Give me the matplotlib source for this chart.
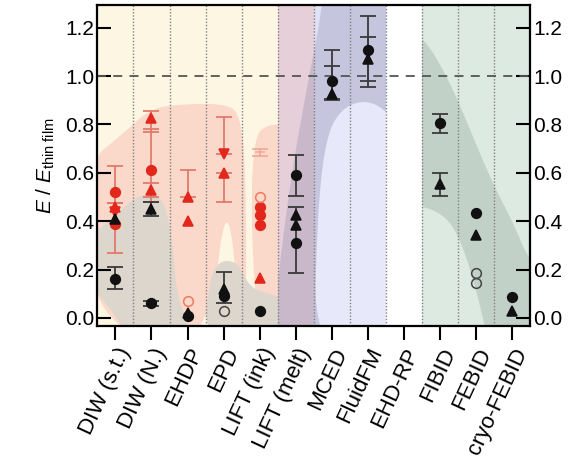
import numpy as np
import matplotlib
matplotlib.use("Agg")
import matplotlib.pyplot as plt
from matplotlib.patches import Polygon, Rectangle

plt.rcParams["font.family"] = ["Liberation Sans", "DejaVu Sans"]
plt.rcParams["mathtext.fontset"] = "custom"
plt.rcParams["mathtext.rm"] = "Liberation Sans"
plt.rcParams["mathtext.it"] = "Liberation Sans:italic"

# ── data ──────────────────────────────────────────────
methods = ["DIW (s.t.)", "DIW (N.)", "EHDP", "EPD", "LIFT (ink)", "LIFT (melt)",
           "MCED", "FluidFM", "EHD-RP", "FIBID", "FEBID", "cryo-FEBID"]

# black filled circles
bc_x = [0, 1, 2, 3, 4, 5, 5, 6, 7, 9, 10, 11]
bc_y = [0.16, 0.06, 0.01, 0.09, 0.03, 0.59, 0.31, 0.98, 1.11, 0.805, 0.435, 0.085]
bc_lo = [0.04, 0.01, 0, 0.03, 0, 0.085, 0.125, 0.08, 0.13, 0.04, 0, 0]
bc_hi = [0.05, 0.01, 0, 0.10, 0, 0.085, 0.15, 0.13, 0.14, 0.04, 0, 0]

# black filled triangles
bt_x = [0, 1, 2, 3, 5, 5, 6, 7, 9, 10, 11]
bt_y = [0.41, 0.45, 0.02, 0.12, 0.425, 0.385, 0.925, 1.07, 0.555, 0.345, 0.03]
bt_lo = [0, 0.03, 0, 0, 0, 0, 0.02, 0.115, 0.05, 0, 0]
bt_hi = [0, 0.03, 0, 0, 0, 0, 0.115, 0.09, 0.045, 0, 0]

# black open circles
bo_x = [3, 10, 10]
bo_y = [0.03, 0.185, 0.145]

# red filled circles
rc_x = [0, 0, 1, 4, 4, 4]
rc_y = [0.52, 0.39, 0.61, 0.46, 0.425, 0.385]
rc_lo = [0.045, 0.12, 0.11, 0, 0, 0]
rc_hi = [0.11, 0.085, 0.17, 0, 0, 0]

# red triangles (up)
ru_x = [0, 1, 1, 2, 2, 3, 4]
ru_y = [0.46, 0.825, 0.53, 0.50, 0.40, 0.60, 0.165]
ru_lo = [0, 0.055, 0.05, 0, 0, 0.12, 0]
ru_hi = [0, 0.03, 0.03, 0.11, 0, 0, 0]

# red triangles (down)
rd_x = [0, 3]
rd_y = [0.44, 0.68]
rd_lo = [0, 0]
rd_hi = [0, 0.15]

# red open circles
ro_x = [2, 4]
ro_y = [0.07, 0.50]

# faded red point
rf_x = [4]
rf_y = [0.685]
rf_err = [0.015]

RED = "#e2281c"
RED_ERR = "#e07a6c"
BLK = "#111111"
BLK_ERR = "#3a3a3a"

YMIN, YMAX = -0.035, 1.2935


def chaikin(pts, n=4):
    """Скругляне на полигон (corner cutting)."""
    pts = np.asarray(pts, float)
    for _ in range(n):
        nxt = np.roll(pts, -1, axis=0)
        out = np.empty((2 * len(pts), 2))
        out[0::2] = 0.75 * pts + 0.25 * nxt
        out[1::2] = 0.25 * pts + 0.75 * nxt
        pts = out
    return pts


def blob(ax, pts, color, x0, x1, alpha=1.0, z=1):
    poly = Polygon(chaikin(pts), closed=True, facecolor=color,
                   edgecolor="none", alpha=alpha, zorder=z)
    ax.add_patch(poly)
    poly.set_clip_path(Rectangle((x0, YMIN), x1 - x0, YMAX - YMIN,
                                 transform=ax.transData))


def points(ax, xs, ys, lo=None, hi=None, marker="o", fc=BLK, ec=BLK,
           ecol=BLK_ERR, ms=7, alpha=1.0):
    if lo is not None:
        for x, y, l, h in zip(xs, ys, lo, hi):
            if l + h > 0:
                ax.errorbar([x], [y], yerr=[[l], [h]], fmt="none", ecolor=ecol,
                            elinewidth=1.3, capsize=5.5, capthick=1.3,
                            alpha=alpha, zorder=3)
    ax.plot(xs, ys, ls="none", marker=marker, ms=ms, mfc=fc, mec=ec,
            mew=1.1, alpha=alpha, zorder=4)


fig = plt.figure(figsize=(5.76, 4.69), dpi=100)
ax = fig.add_axes([0.169, 0.304, 0.752, 0.685])

# ── фон ──
ax.axvspan(-0.5, 4.5, color="#fdf6e3", lw=0, zorder=0)
ax.axvspan(4.5, 5.5, color="#e6cfd9", lw=0, zorder=0)
ax.axvspan(5.5, 7.5, color="#e1e1f7", lw=0, zorder=0)
ax.axvspan(7.5, 8.5, color="white", lw=0, zorder=0)
ax.axvspan(8.5, 11.5, color="#dceae1", lw=0, zorder=0)

SALMON = "#fad8ca"
GRAY = "#dcd6cc"
blob(ax, [(-0.8, 0.12), (-0.8, 0.64), (0.2, 0.76), (1.0, 0.87), (2.0, 0.885),
          (3.0, 0.885), (3.45, 0.85), (3.62, 0.6), (3.62, -0.1), (3.5, -0.1),
          (3.1, 0.56), (2.6, -0.1), (0.5, -0.1)], SALMON, -0.5, 4.5)
blob(ax, [(3.9, 0.0), (3.75, 0.45), (3.85, 0.75), (4.2, 0.8), (4.8, 0.8),
          (4.8, 0.0), (4.3, -0.1)], SALMON, -0.5, 4.5)
blob(ax, [(-0.8, 0.16), (-0.8, 0.33), (0.0, 0.42), (0.6, 0.51), (1.3, 0.51),
          (1.55, 0.35), (1.7, 0.1), (1.9, 0.02), (2.1, -0.1), (0.4, -0.1),
          (0.2, -0.03)], GRAY, -0.5, 4.5, 1.0, 1.1)
blob(ax, [(2.45, -0.1), (2.6, 0.16), (2.9, 0.24), (3.4, 0.23), (3.7, 0.13),
          (4.2, 0.1), (4.8, 0.08), (4.8, -0.1)], GRAY, -0.5, 4.5, 1.0, 1.1)
blob(ax, [(4.4, -0.15), (4.45, 0.1), (4.85, 0.57), (5.3, 0.95), (5.7, 1.25),
          (5.85, 1.5), (7.8, 1.5), (7.8, -0.15)], "#7d7da0", 4.5, 7.5, 0.28)
blob(ax, [(5.5, -0.15), (5.6, 0.45), (5.85, 0.76), (6.3, 0.87), (6.9, 0.9),
          (7.4, 0.87), (7.8, 0.8), (7.8, -0.15)], "#e8e8fb", 5.5, 7.5, 1.0, 1.2)
blob(ax, [(8.2, 0.47), (8.2, 1.16), (8.55, 1.16), (9.3, 0.97), (10.4, 0.57),
          (11.0, 0.4), (11.45, 0.24), (11.8, 0.2), (11.8, -0.15), (10.4, -0.15),
          (10.0, 0.12), (9.5, 0.35), (9.0, 0.44)], "#c2d1c8", 8.5, 11.5)

# ── линии ──
for xb in np.arange(0.5, 11, 1.0):
    ax.axvline(xb, color="#808080", lw=1.0, ls=(0, (1, 1.3)), zorder=2)
ax.axhline(1.0, color="#555555", lw=1.3, ls=(0, (5, 4)), zorder=2)

# ── точки ──
points(ax, rf_x, rf_y, rf_err, rf_err, marker="_", fc="#f0a090", ec="#f0a090",
       ecol="#f0a090", alpha=0.8)
points(ax, rc_x, rc_y, rc_lo, rc_hi, "o", RED, RED, RED_ERR)
points(ax, ru_x, ru_y, ru_lo, ru_hi, "^", RED, RED, RED_ERR)
points(ax, rd_x, rd_y, rd_lo, rd_hi, "v", RED, RED, RED_ERR)
points(ax, ro_x, ro_y, marker="o", fc="none", ec="#ef7a60")
points(ax, bc_x, bc_y, bc_lo, bc_hi, "o", BLK, BLK)
points(ax, bt_x, bt_y, bt_lo, bt_hi, "^", BLK, BLK)
points(ax, bo_x, bo_y, marker="o", fc="none", ec="#444444")

# ── оси ──
ax.set_xlim(-0.5, 11.5)
ax.set_ylim(YMIN, YMAX)
ax.set_xticks(range(len(methods)))
ax.set_xticklabels(methods, rotation=65, ha="right", rotation_mode="anchor",
                   fontsize=16)
yt = np.arange(0, 1.21, 0.2)
ax.set_yticks(yt)
ax.set_yticklabels([f"{v:.1f}" for v in yt])
ax.tick_params(axis="x", direction="out", length=10, width=1.5, pad=3)
ax.tick_params(axis="y", direction="in", length=10, width=1.5, labelsize=15,
               left=True, right=True, labelright=True, pad=2)
for side in ["left", "right", "top", "bottom"]:
    ax.spines[side].set_linewidth(1.6)
    ax.spines[side].set_zorder(5)

ax.set_ylabel(r"$E$ / $E_{\mathrm{thin\ film}}$", fontsize=15, labelpad=6)

fig.savefig("out.png", dpi=100)
